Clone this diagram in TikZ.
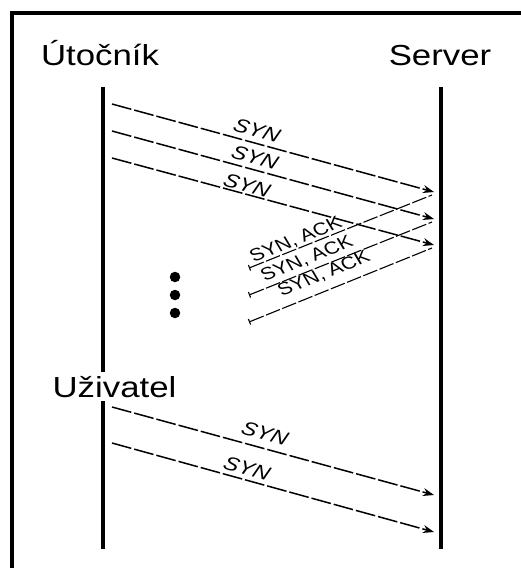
\documentclass[tikz,border=0pt]{standalone}
\usepackage{fontspec}
\setmainfont{Liberation Sans}
\usetikzlibrary{arrows.meta}
\begin{document}
\begin{tikzpicture}[x=1pt,y=-1pt,
  actor/.style={font=\fontsize{29}{32}\selectfont, inner sep=0pt, anchor=base, xscale=1.2},
  msg/.style={line width=1.5pt, dash pattern=on 20pt off 3pt, -{Stealth[length=11pt,width=8pt]}},
  reply/.style={line width=1.1pt, dash pattern=on 15pt off 2.5pt, {Bar[width=6pt,line width=1.1pt]}-},
  lab/.style={font=\fontsize{19}{21}\selectfont\itshape, inner sep=0pt, xscale=1.22},
  labk/.style={font=\fontsize{17.5}{19}\selectfont, inner sep=0pt, xscale=1.22},
  life/.style={line width=3.2pt},
  dot/.style={circle, fill, inner sep=0pt, minimum size=10.5pt}]
\useasboundingbox (0,0) rectangle (521,568);
\draw[line width=3.5pt] (12,600) |- (560,13);
% actors
\node[actor] (att) at (100,65) {Útočník};
\node[actor] (srv) at (440,65) {Server};
% lifelines
\coordinate (la) at (103,87);
\coordinate (lb) at (103,549);
\coordinate (ra) at (441,87);
\coordinate (rb) at (441,549);
\draw[life] (la) -- (lb);
\draw[life] (ra) -- (rb);
\node[actor, fill=white, inner xsep=2pt, inner ysep=4pt] (usr) at (114.5,397) {Uživatel};
% message end points
\coordinate (a1) at (112,104); \coordinate (s1) at (434,192);
\coordinate (a2) at (112,131); \coordinate (s2) at (434,219);
\coordinate (a3) at (112,158); \coordinate (s3) at (434,245);
\coordinate (r1) at (432,195); \coordinate (b1) at (249,268);
\coordinate (r2) at (432,222); \coordinate (b2) at (249,295);
\coordinate (r3) at (432,248); \coordinate (b3) at (249,322);
\coordinate (u1) at (112,407); \coordinate (t1) at (434,495);
\coordinate (u2) at (112,443); \coordinate (t2) at (434,532);
% SYN messages
\draw[msg] (a1) -- (s1);
\draw[msg] (a2) -- (s2);
\draw[msg] (a3) -- (s3);
% SYN, ACK replies
\draw[reply] (b1) -- (r1);
\draw[reply] (b2) -- (r2);
\draw[reply] (b3) -- (r3);
% user SYN
\draw[msg] (u1) -- (t1);
\draw[msg] (u2) -- (t2);
% labels
\node[lab, rotate=-18.4] (l1) at (257,130) {SYN};
\node[lab, rotate=-18.4] (l2) at (255,157) {SYN};
\node[lab, rotate=-18.4] (l3) at (247,185) {SYN};
\node[labk, rotate=26] (k1) at (296,240) {SYN, ACK};
\node[labk, rotate=26] (k2) at (307,259) {SYN, ACK};
\node[labk, rotate=26] (k3) at (324,274) {SYN, ACK};
\node[lab, rotate=-18.4] (l4) at (265,433) {SYN};
\node[lab, rotate=-18.4] (l5) at (247,468) {SYN};
% dots
\node[dot] (d1) at (175,277) {};
\node[dot] (d2) at (175,295) {};
\node[dot] (d3) at (175,313) {};
\end{tikzpicture}
\end{document}
